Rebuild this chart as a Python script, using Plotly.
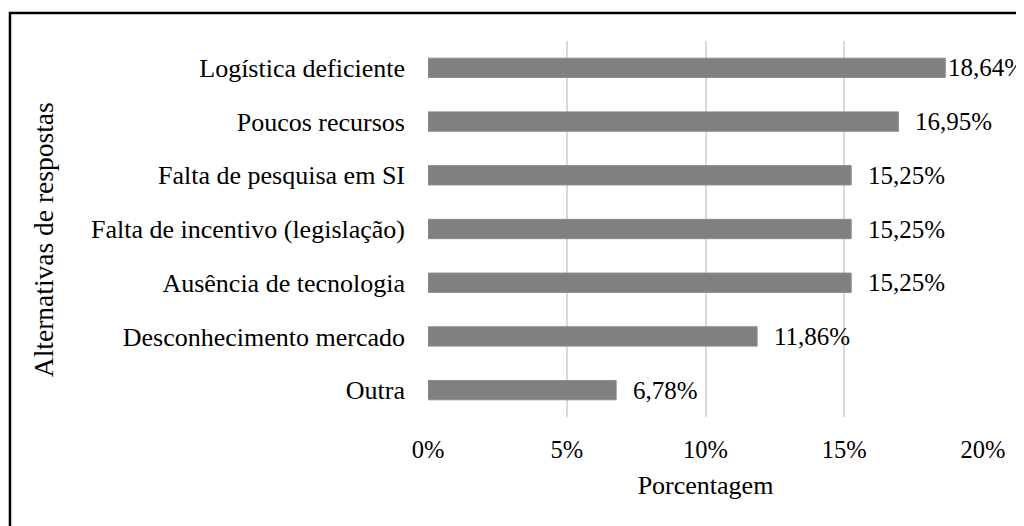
import plotly.graph_objects as go

categorias = ["Logística deficiente", "Poucos recursos", "Falta de pesquisa em SI",
              "Falta de incentivo (legislação)", "Ausência de tecnologia",
              "Desconhecimento mercado", "Outra"]
porcentagens = [0.1864, 0.1695, 0.1525, 0.1525, 0.1525, 0.1186, 0.0678]
rotulos = ["18,64%", "16,95%", "15,25%", "15,25%", "15,25%", "11,86%", "6,78%"]
ticks_x = [0, 0.05, 0.10, 0.15, 0.20]

FONTE = "Liberation Serif"

fig = go.Figure(go.Bar(x=porcentagens, y=categorias, orientation="h",
                       marker=dict(color="#808080", line=dict(color="#8c8c8c", width=1)),
                       width=0.36, hoverinfo="x+y"))

# rótulos de dados (o maior fica colado na barra, como no Excel)
for v, c, t in zip(porcentagens, categorias, rotulos):
  fig.add_annotation(x=v, y=c, text=t, showarrow=False, xanchor="left",
                     xshift=1 if v == max(porcentagens) else 15,
                     font=dict(size=25, color="black", family=FONTE))

# título do eixo y (um pouco abaixo do centro, como no original)
fig.add_annotation(x=-0.6937, y=0.473, xref="paper", yref="paper", showarrow=False,
                   xanchor="center", yanchor="middle",
                   text="Alternativas de respostas", textangle=-90,
                   font=dict(size=27.5, color="black", family=FONTE))

# moldura do gráfico (a página tem 8px de margem no body)
fig.add_shape(type="rect", xref="paper", yref="paper", x0=-0.7532, y0=-0.5,
              x1=1.3, y1=1.0745, line=dict(color="black", width=2.5), layer="below")

fig.update_layout(
  width=1016, height=518,
  margin=dict(l=420, r=41, t=33, b=109, autoexpand=False),
  paper_bgcolor="white", plot_bgcolor="white",
  font=dict(family=FONTE, size=26, color="black"),
  separators=",.",
  showlegend=False,
  xaxis=dict(range=[0, 0.2], tickvals=ticks_x, tickformat=".0%",
             tickfont=dict(size=24.5),
             showgrid=True, gridcolor="#d9d9d9", gridwidth=2, zeroline=False,
             showline=False, ticks="", ticklabelstandoff=15,
             title=dict(text="Porcentagem", standoff=14, font=dict(size=26)),
             automargin=False),
  yaxis=dict(autorange="reversed", showgrid=False, zeroline=False, showline=False,
             ticks="", ticklabelstandoff=22, tickfont=dict(size=26), automargin=False),
)

fig.write_html("out.html")
